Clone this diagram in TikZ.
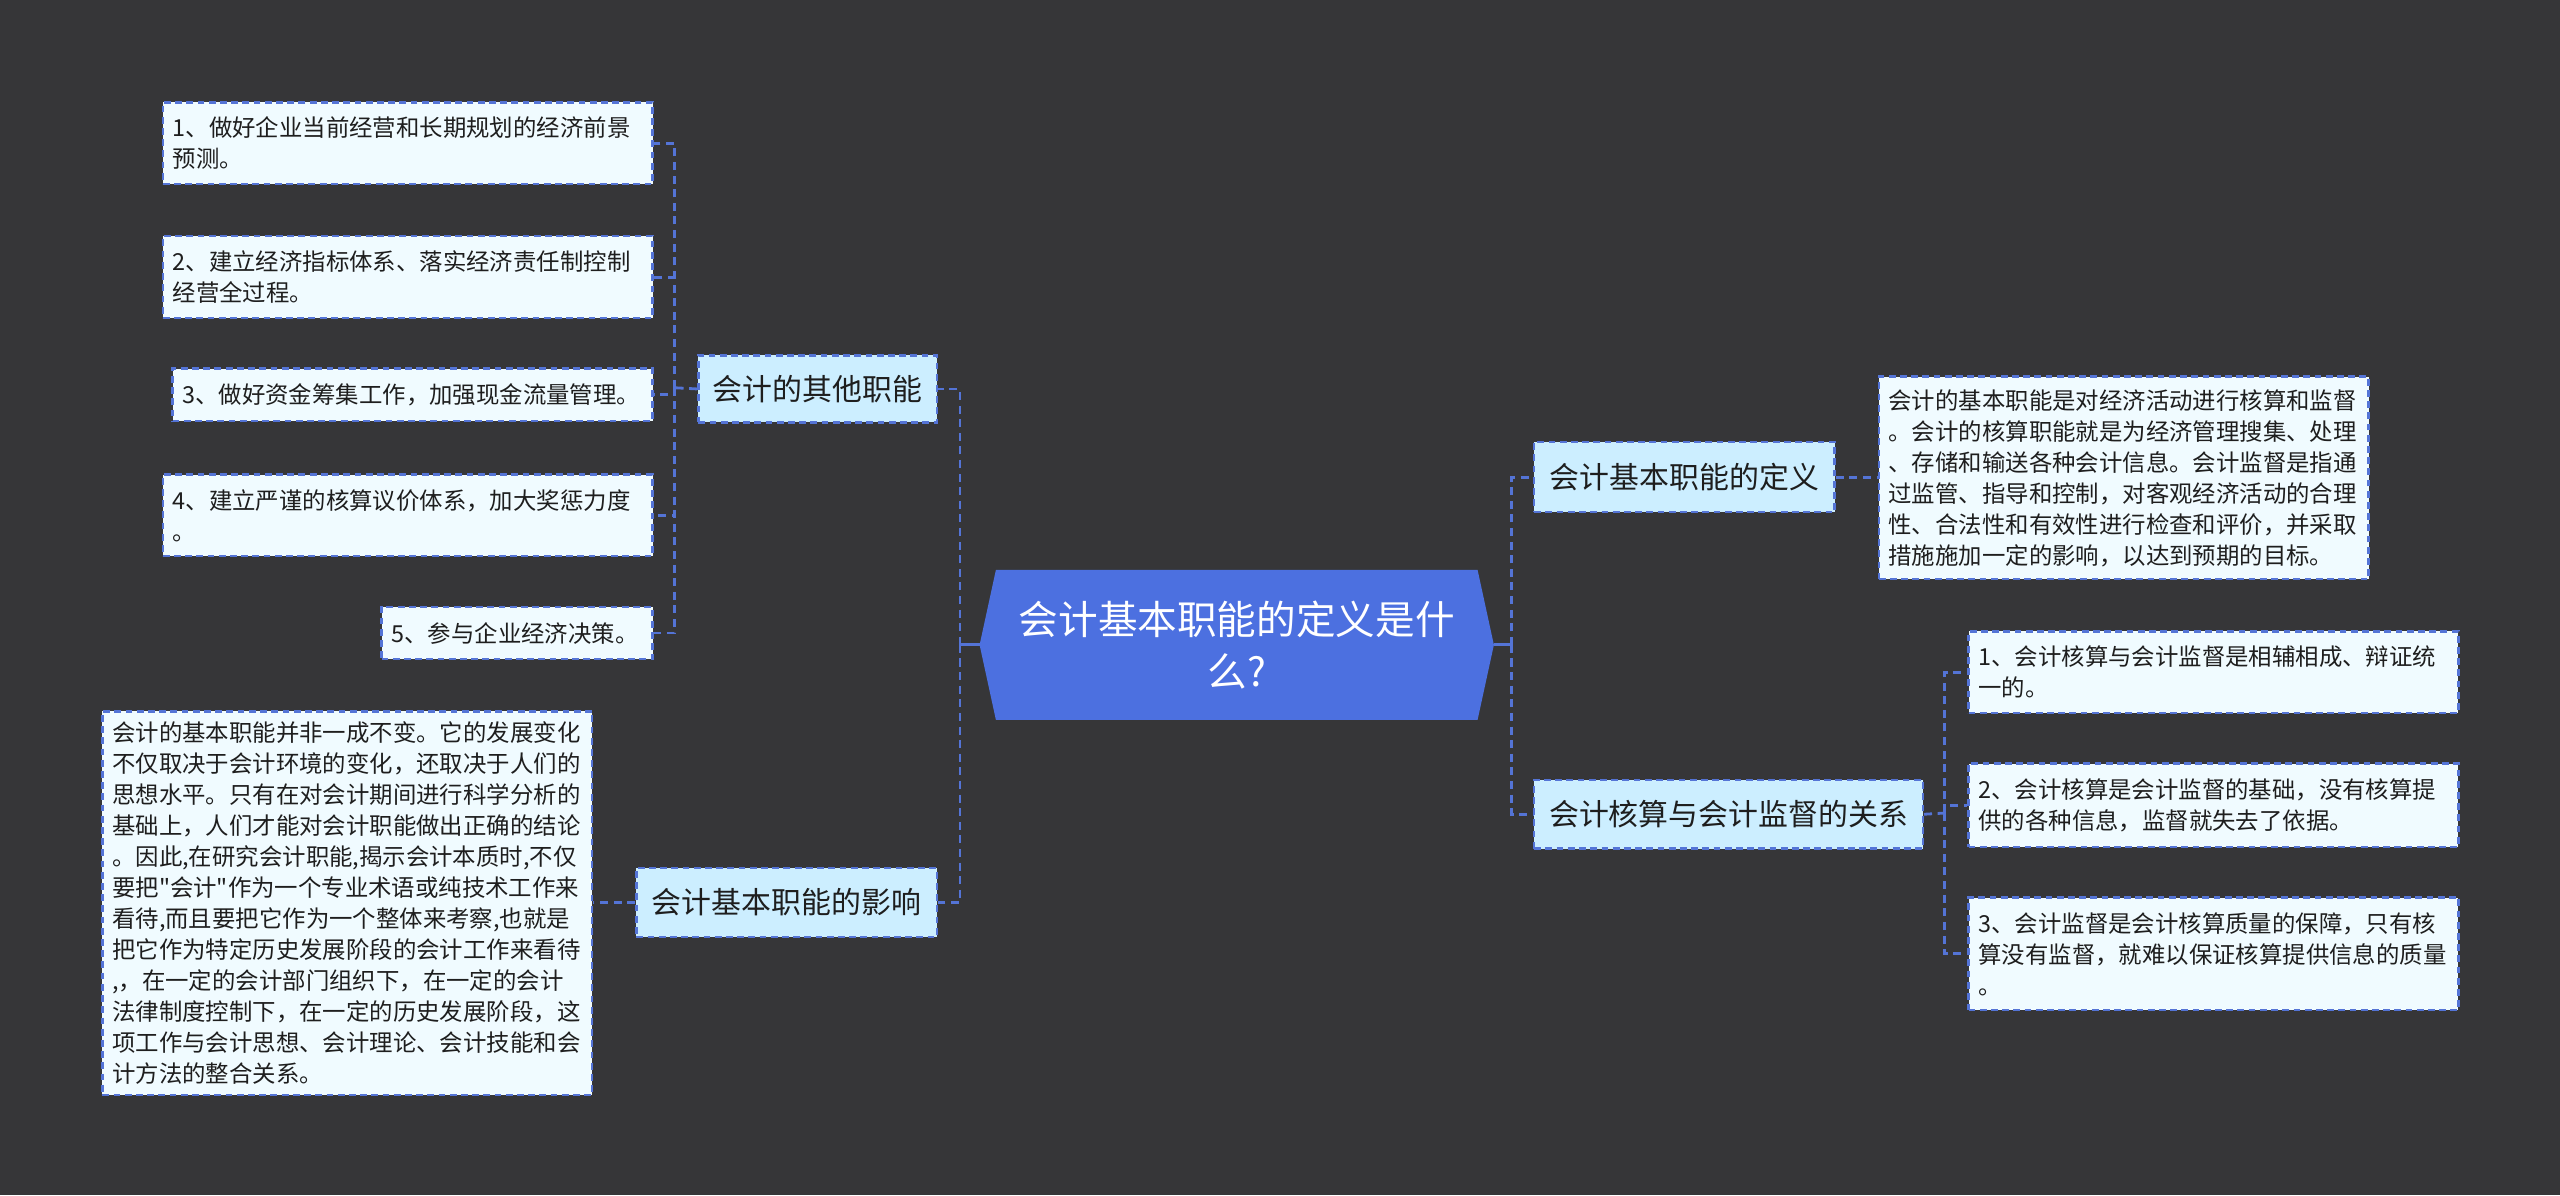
\documentclass[tikz,border=0pt]{standalone}
\usepackage{fontspec}
\newfontfamily\cjk{Noto Sans CJK SC}
\definecolor{bg}{RGB}{54,54,56}
\definecolor{lineblue}{RGB}{84,116,214}
\definecolor{leaffill}{RGB}{240,251,255}
\definecolor{brfill}{RGB}{204,238,255}
\definecolor{centerfill}{RGB}{76,112,224}
\definecolor{txt}{RGB}{30,30,30}
\begin{document}
\begin{tikzpicture}[x=0.408pt,y=-0.408pt,
  leafbox/.style={draw=lineblue, dash pattern=on 1.7pt off 1.1pt, fill=leaffill, line width=0.6pt,
     anchor=north west, inner sep=0pt, text=txt, align=left,
     font=\cjk\fontsize{5.85pt}{7.75pt}\selectfont},
  brbox/.style={draw=lineblue, dash pattern=on 1.7pt off 1.1pt, fill=brfill, line width=0.6pt,
     anchor=north west, inner sep=0pt, text=txt, align=center,
     font=\cjk\fontsize{7.47pt}{9pt}\selectfont},
  conn/.style={draw=lineblue, line width=0.7pt, dash pattern=on 2pt off 1.4pt},
  solidconn/.style={draw=lineblue, line width=0.8pt}]
\useasboundingbox (0,0) rectangle (1568,732);
\fill[bg] (0,0) rectangle (1568,732);

% center
\fill[centerfill] (610,349) -- (905,349) -- (915,395) -- (905,441) -- (610,441) -- (600,395) -- cycle;
\node[text=white, align=center, font=\cjk\fontsize{9.9pt}{13pt}\selectfont] (C) at (757.5,395) {会计基本职能的定义是什\\么?};
\coordinate (cL) at (600,395);
\coordinate (cR) at (915,395);
\coordinate (lt) at (588,395);
\coordinate (rt) at (926,395);

% branches
\node[brbox, minimum width=59.57pt, minimum height=16.73pt] (B1) at (427,217) {会计的其他职能};
\node[brbox, minimum width=75.07pt, minimum height=17.14pt] (B2) at (389,531) {会计基本职能的影响};
\node[brbox, minimum width=75.07pt, minimum height=17.54pt] (B3) at (939,270) {会计基本职能的定义};
\node[brbox, minimum width=97.1pt, minimum height=17.14pt] (B4) at (939,477) {会计核算与会计监督的关系};

% left leaves
\node[leafbox, minimum width=122.4pt, minimum height=20.4pt, text width=117.5pt] (L1) at (99,62) {1、做好企业当前经营和长期规划的经济前景\\预测。};
\node[leafbox, minimum width=122.4pt, minimum height=20.4pt, text width=117.5pt] (L2) at (99,144) {2、建立经济指标体系、落实经济责任制控制\\经营全过程。};
\node[leafbox, minimum width=119.95pt, minimum height=13.06pt, text width=115.1pt] (L3) at (105,225) {3、做好资金筹集工作，加强现金流量管理。};
\node[leafbox, minimum width=122.4pt, minimum height=20.4pt, text width=117.5pt] (L4) at (99,290) {4、建立严谨的核算议价体系，加大奖惩力度\\。};
\node[leafbox, minimum width=67.73pt, minimum height=13.06pt, text width=62.8pt] (L5) at (233,371) {5、参与企业经济决策。};
\node[leafbox, minimum width=122.4pt, minimum height=95.9pt, text width=117.5pt] (L6) at (62,435) {会计的基本职能并非一成不变。它的发展变化\\不仅取决于会计环境的变化，还取决于人们的\\思想水平。只有在对会计期间进行科学分析的\\基础上，人们才能对会计职能做出正确的结论\\。因此,在研究会计职能,揭示会计本质时,不仅\\要把"会计"作为一个专业术语或纯技术工作来\\看待,而且要把它作为一个整体来考察,也就是\\把它作为特定历史发展阶段的会计工作来看待\\,，在一定的会计部门组织下，在一定的会计\\法律制度控制下，在一定的历史发展阶段，这\\项工作与会计思想、会计理论、会计技能和会\\计方法的整合关系。};

% right leaves
\node[leafbox, minimum width=122.4pt, minimum height=50.6pt, text width=117.5pt] (D) at (1150,230) {会计的基本职能是对经济活动进行核算和监督\\。会计的核算职能就是为经济管理搜集、处理\\、存储和输送各种会计信息。会计监督是指通\\过监管、指导和控制，对客观经济活动的合理\\性、合法性和有效性进行检查和评价，并采取\\措施施加一定的影响，以达到预期的目标。};
\node[leafbox, minimum width=122.4pt, minimum height=20.4pt, text width=117.5pt] (R1) at (1205,386) {1、会计核算与会计监督是相辅相成、辩证统\\一的。};
\node[leafbox, minimum width=122.4pt, minimum height=20.8pt, text width=117.5pt] (R2) at (1205,467) {2、会计核算是会计监督的基础，没有核算提\\供的各种信息，监督就失去了依据。};
\node[leafbox, minimum width=122.4pt, minimum height=28.15pt, text width=117.5pt] (R3) at (1205,549) {3、会计监督是会计核算质量的保障，只有核\\算没有监督，就难以保证核算提供信息的质量\\。};

% connectors center
\draw[solidconn] (cL) -- (lt);
\draw[solidconn] (cR) -- (rt);
\draw[conn] (lt) |- (B1.east);
\draw[conn] (lt) |- (B2.east);
\draw[conn] (rt) |- (B3.west);
\draw[conn] (rt) |- (B4.west);

% branch 1
\coordinate (b1t) at (413,237.5);
\draw[conn] (B1.west) -- (b1t);
\draw[conn] (b1t) |- (L1.east);
\draw[conn] (b1t) |- (L2.east);
\draw[conn] (b1t) |- (L3.east);
\draw[conn] (b1t) |- (L4.east);
\draw[conn] (b1t) |- (L5.east);

% branch 2
\draw[conn] (B2.west) -- (L6.east |- B2.west);

% branch 3
\draw[conn] (B3.east) -- (D.west |- B3.east);

% branch 4
\coordinate (b4t) at (1191,498);
\draw[conn] (B4.east) -- (b4t);
\draw[conn] (b4t) |- (R1.west);
\draw[conn] (b4t) |- (R2.west);
\draw[conn] (b4t) |- (R3.west);
\end{tikzpicture}
\end{document}
